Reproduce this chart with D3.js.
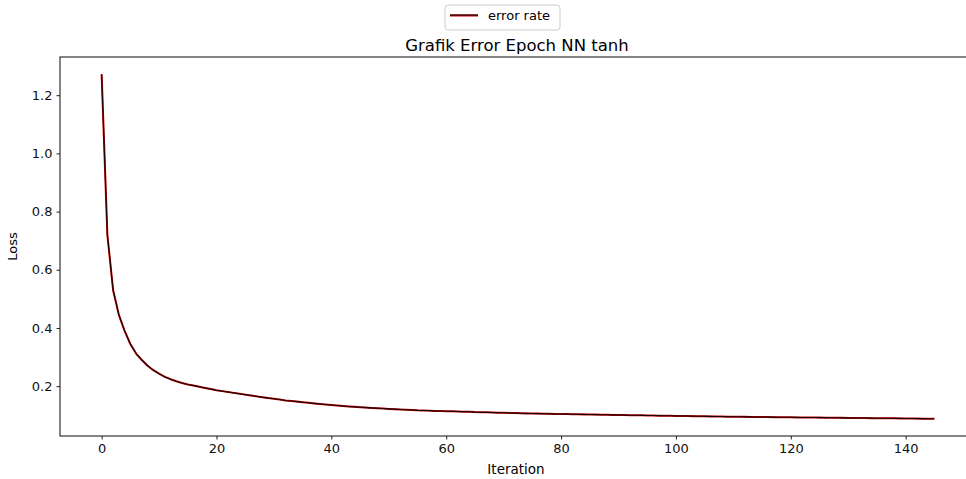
<!DOCTYPE html>
<html>
<head>
<meta charset="utf-8">
<script src="https://cdn.jsdelivr.net/npm/d3@7"></script>
<style>
  body { margin: 0; background: #fff; }
  svg { display: block; font-family: "DejaVu Sans", sans-serif; }
</style>
</head>
<body>
<div id="chart"></div>
<script>
// loss per iteration (0..145)
var lossValues = [
  1.272, 0.720, 0.530, 0.445, 0.390, 0.345, 0.312, 0.290, 0.270, 0.255,
  0.243, 0.232, 0.224, 0.217, 0.211, 0.206, 0.202, 0.198, 0.194, 0.190,
  0.186, 0.183, 0.180, 0.177, 0.174, 0.171, 0.168, 0.165, 0.162, 0.159,
  0.157, 0.154, 0.151, 0.149, 0.147, 0.145, 0.1428, 0.1408, 0.1388, 0.1369,
  0.1351, 0.1334, 0.1318, 0.1303, 0.1289, 0.1276, 0.1264, 0.1253, 0.1242, 0.1231,
  0.122, 0.121, 0.120, 0.119, 0.118, 0.117, 0.1165, 0.116, 0.115, 0.1145,
  0.114, 0.1135, 0.113, 0.1125, 0.112, 0.111, 0.1105, 0.110, 0.1095, 0.109,
  0.1085, 0.108, 0.1075, 0.107, 0.1065, 0.106, 0.1057, 0.1053, 0.105, 0.1046,
  0.1043, 0.104, 0.1036, 0.1033, 0.103, 0.1026, 0.1023, 0.102, 0.1016, 0.1013,
  0.101, 0.1006, 0.1003, 0.100, 0.0997, 0.0994, 0.0991, 0.0988, 0.0985, 0.0982,
  0.0979, 0.0976, 0.0973, 0.097, 0.0967, 0.0964, 0.0961, 0.0958, 0.0956, 0.0953,
  0.095, 0.0948, 0.0946, 0.0944, 0.0942, 0.094, 0.0938, 0.0936, 0.0934, 0.0932,
  0.093, 0.0928, 0.0926, 0.0924, 0.0922, 0.092, 0.0918, 0.0916, 0.0914, 0.0912,
  0.091, 0.0908, 0.0906, 0.0904, 0.0902, 0.090, 0.0898, 0.0896, 0.0894, 0.0892,
  0.089, 0.0888, 0.0886, 0.0884, 0.0882, 0.088
];
var xTicks = [0, 20, 40, 60, 80, 100, 120, 140];
var yTicks = [0.2, 0.4, 0.6, 0.8, 1.0, 1.2];
var seriesName = 'error rate';
var chartTitle = 'Grafik Error Epoch NN tanh';

var width = 966, height = 479;
var margin = { top: 57, right: -10, bottom: 43, left: 60 };
var plotW = width - margin.left - margin.right;
var plotH = height - margin.top - margin.bottom;

var svg = d3.select('#chart').append('svg')
  .attr('width', width)
  .attr('height', height);

// matplotlib-like 5% padding around the data
var n = lossValues.length - 1;
var yMin = d3.min(lossValues), yMax = d3.max(lossValues);
var padX = n * 0.05, padY = (yMax - yMin) * 0.05;

var x = d3.scaleLinear().domain([-padX, n + padX]).range([0, plotW]);
var y = d3.scaleLinear().domain([yMin - padY, yMax + padY]).range([plotH, 0]);

var g = svg.append('g')
  .attr('transform', 'translate(' + margin.left + ',' + margin.top + ')');

var line = d3.line()
  .x(function (d, i) { return x(i); })
  .y(function (d) { return y(d); });

g.append('path')
  .datum(lossValues)
  .attr('d', line)
  .attr('fill', 'none')
  .attr('stroke', '#c00000')
  .attr('stroke-width', 2.0)
  .attr('stroke-linejoin', 'round');

g.append('path')
  .datum(lossValues)
  .attr('d', line)
  .attr('fill', 'none')
  .attr('stroke', '#1a0505')
  .attr('stroke-width', 1.1)
  .attr('stroke-linejoin', 'round');

var xAxis = g.append('g')
  .attr('transform', 'translate(0,' + plotH + ')')
  .call(d3.axisBottom(x).tickValues(xTicks).tickSize(3.5).tickPadding(4).tickFormat(d3.format('d')));

var yAxis = g.append('g')
  .call(d3.axisLeft(y).tickValues(yTicks).tickSize(3.5).tickPadding(4).tickFormat(d3.format('.1f')));

[xAxis, yAxis].forEach(function (ax) {
  ax.select('.domain').remove();
  ax.selectAll('line').attr('stroke', '#222');
  ax.selectAll('text').attr('font-size', 13).attr('fill', '#111')
    .attr('font-family', '"DejaVu Sans", sans-serif');
});

// spines
g.append('rect')
  .attr('x', 0).attr('y', 0)
  .attr('width', plotW).attr('height', plotH)
  .attr('fill', 'none')
  .attr('stroke', '#222')
  .attr('stroke-width', 1.1);

g.append('text')
  .attr('x', plotW / 2 - 2)
  .attr('y', plotH + 38)
  .attr('text-anchor', 'middle')
  .attr('font-size', 13.5)
  .text('Iteration');

g.append('text')
  .attr('transform', 'translate(-43,' + (plotH / 2) + ') rotate(-90)')
  .attr('text-anchor', 'middle')
  .attr('font-size', 13)
  .text('Loss');

svg.append('text')
  .attr('x', 517)
  .attr('y', 51)
  .attr('text-anchor', 'middle')
  .attr('font-size', 16.5)
  .text(chartTitle);

// legend
var legend = svg.append('g').attr('transform', 'translate(445,5)');
legend.append('rect')
  .attr('width', 115).attr('height', 25)
  .attr('rx', 3)
  .attr('fill', '#fff')
  .attr('stroke', '#ccc');
legend.append('line')
  .attr('x1', 5).attr('x2', 33).attr('y1', 10.5).attr('y2', 10.5)
  .attr('stroke', '#c00000').attr('stroke-width', 2.0);
legend.append('line')
  .attr('x1', 5).attr('x2', 33).attr('y1', 10).attr('y2', 10)
  .attr('stroke', '#1a0505').attr('stroke-width', 1.1);
legend.append('text')
  .attr('x', 43).attr('y', 15)
  .attr('font-size', 13)
  .text(seriesName);
</script>
</body>
</html>
